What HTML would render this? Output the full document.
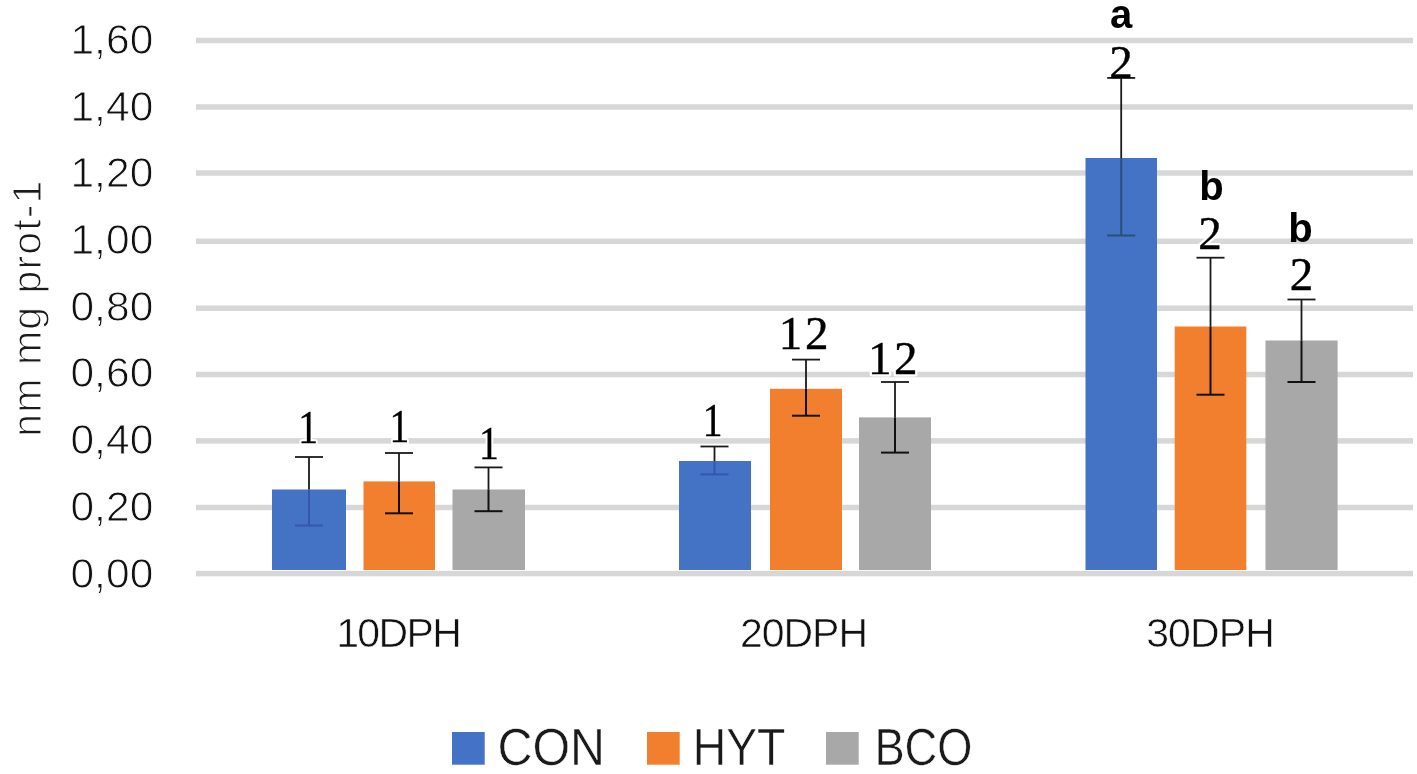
<!DOCTYPE html>
<html><head><meta charset="utf-8"><style>
html,body{margin:0;padding:0;background:#fff;overflow:hidden;}
svg{display:block;filter:blur(0.45px);}
.tk{font-family:"Liberation Sans",sans-serif;font-size:42.5px;fill:#111;letter-spacing:0.1px;stroke:#fff;stroke-width:0.9px;}
.xl{font-family:"Liberation Sans",sans-serif;font-size:41px;fill:#111;stroke:#fff;stroke-width:0.6px;}
.lg{font-family:"Liberation Sans",sans-serif;font-size:51px;fill:#1a1a1a;stroke:#fff;stroke-width:0.5px;}
.yt{font-family:"Liberation Sans",sans-serif;font-size:41px;fill:#1a1a1a;letter-spacing:1.1px;stroke:#fff;stroke-width:1.1px;}
.sl{font-family:"Liberation Serif",serif;font-size:47px;fill:#000;stroke:#000;stroke-width:0.4px;}
.halo{font-family:"Liberation Serif",serif;font-size:47px;fill:none;stroke:#fff;stroke-width:5px;stroke-linejoin:round;}
.bl{font-family:"Liberation Sans",sans-serif;font-size:40px;font-weight:bold;fill:#000;}
</style></head><body>
<svg width="1417" height="774" viewBox="0 0 1417 774">
<rect x="196" y="37.75" width="1217" height="5.5" fill="#d7d7d7"/>
<rect x="196" y="104.25" width="1217" height="5.5" fill="#d7d7d7"/>
<rect x="196" y="170.25" width="1217" height="5.5" fill="#d7d7d7"/>
<rect x="196" y="238.55" width="1217" height="5.5" fill="#d7d7d7"/>
<rect x="196" y="305.45" width="1217" height="5.5" fill="#d7d7d7"/>
<rect x="196" y="371.75" width="1217" height="5.5" fill="#d7d7d7"/>
<rect x="196" y="438.15" width="1217" height="5.5" fill="#d7d7d7"/>
<rect x="196" y="504.75" width="1217" height="5.5" fill="#d7d7d7"/>
<rect x="196" y="570.85" width="1217" height="5.5" fill="#d7d7d7"/>
<rect x="272" y="489.5" width="74.0" height="80.5" fill="#4472c4"/>
<rect x="363.5" y="481.4" width="71.5" height="88.6" fill="#f27f2e"/>
<rect x="452.5" y="489.5" width="72.5" height="80.5" fill="#a8a8a8"/>
<rect x="679" y="461" width="72.0" height="109.0" fill="#4472c4"/>
<rect x="770" y="388.8" width="72.0" height="181.2" fill="#f27f2e"/>
<rect x="859" y="417.4" width="72.0" height="152.6" fill="#a8a8a8"/>
<rect x="1085.5" y="158" width="71.5" height="412.0" fill="#4472c4"/>
<rect x="1174.7" y="326.5" width="71.6" height="243.5" fill="#f27f2e"/>
<rect x="1265.5" y="340.5" width="72.1" height="229.5" fill="#a8a8a8"/>
<g transform="translate(308,443.4) scale(0.84,1)"><text x="0" y="0" text-anchor="middle" class="halo">1</text></g>
<g transform="translate(399.3,442) scale(0.84,1)"><text x="0" y="0" text-anchor="middle" class="halo">1</text></g>
<g transform="translate(488.8,458.6) scale(0.84,1)"><text x="0" y="0" text-anchor="middle" class="halo">1</text></g>
<g transform="translate(712.6,435.5) scale(0.84,1)"><text x="0" y="0" text-anchor="middle" class="halo">1</text></g>
<text x="803.6" y="348.8" text-anchor="middle" class="halo">1<tspan dx="2.6">2</tspan></text>
<text x="892.7" y="373.6" text-anchor="middle" class="halo">1<tspan dx="2.6">2</tspan></text>
<text x="1121" y="77.8" text-anchor="middle" class="halo">2</text>
<text x="1210" y="248.8" text-anchor="middle" class="halo">2</text>
<text x="1301.5" y="289.6" text-anchor="middle" class="halo">2</text>
<line x1="309" y1="457" x2="309" y2="489.5" stroke="#1a1a1a" stroke-width="1.8"/>
<line x1="309" y1="489.5" x2="309" y2="525.5" stroke="#3656a8" stroke-width="2"/>
<line x1="295" y1="457" x2="323" y2="457" stroke="#1a1a1a" stroke-width="1.8"/>
<line x1="295" y1="525.5" x2="323" y2="525.5" stroke="#3656a8" stroke-width="2"/>
<line x1="399" y1="453" x2="399" y2="481.4" stroke="#1a1a1a" stroke-width="1.8"/>
<line x1="399" y1="481.4" x2="399" y2="513.3" stroke="#111" stroke-width="2"/>
<line x1="385" y1="453" x2="413" y2="453" stroke="#1a1a1a" stroke-width="1.8"/>
<line x1="385" y1="513.3" x2="413" y2="513.3" stroke="#111" stroke-width="2"/>
<line x1="488.5" y1="467.4" x2="488.5" y2="489.5" stroke="#1a1a1a" stroke-width="1.8"/>
<line x1="488.5" y1="489.5" x2="488.5" y2="511.2" stroke="#111" stroke-width="2"/>
<line x1="474.5" y1="467.4" x2="502.5" y2="467.4" stroke="#1a1a1a" stroke-width="1.8"/>
<line x1="474.5" y1="511.2" x2="502.5" y2="511.2" stroke="#111" stroke-width="2"/>
<line x1="714.5" y1="446.5" x2="714.5" y2="461" stroke="#1a1a1a" stroke-width="1.8"/>
<line x1="714.5" y1="461" x2="714.5" y2="474.4" stroke="#3656a8" stroke-width="2"/>
<line x1="700.5" y1="446.5" x2="728.5" y2="446.5" stroke="#1a1a1a" stroke-width="1.8"/>
<line x1="700.5" y1="474.4" x2="728.5" y2="474.4" stroke="#3656a8" stroke-width="2"/>
<line x1="806" y1="359.6" x2="806" y2="388.8" stroke="#1a1a1a" stroke-width="1.8"/>
<line x1="806" y1="388.8" x2="806" y2="415.7" stroke="#111" stroke-width="2"/>
<line x1="792" y1="359.6" x2="820" y2="359.6" stroke="#1a1a1a" stroke-width="1.8"/>
<line x1="792" y1="415.7" x2="820" y2="415.7" stroke="#111" stroke-width="2"/>
<line x1="895" y1="382" x2="895" y2="417.4" stroke="#1a1a1a" stroke-width="1.8"/>
<line x1="895" y1="417.4" x2="895" y2="452.6" stroke="#111" stroke-width="2"/>
<line x1="881" y1="382" x2="909" y2="382" stroke="#1a1a1a" stroke-width="1.8"/>
<line x1="881" y1="452.6" x2="909" y2="452.6" stroke="#111" stroke-width="2"/>
<line x1="1121.2" y1="77.9" x2="1121.2" y2="158" stroke="#1a1a1a" stroke-width="1.8"/>
<line x1="1121.2" y1="158" x2="1121.2" y2="235.5" stroke="#2a4f78" stroke-width="2"/>
<line x1="1107.2" y1="77.9" x2="1135.2" y2="77.9" stroke="#1a1a1a" stroke-width="1.8"/>
<line x1="1107.2" y1="235.5" x2="1135.2" y2="235.5" stroke="#2a4f78" stroke-width="2"/>
<line x1="1210.5" y1="257.7" x2="1210.5" y2="326.5" stroke="#1a1a1a" stroke-width="1.8"/>
<line x1="1210.5" y1="326.5" x2="1210.5" y2="394.7" stroke="#111" stroke-width="2"/>
<line x1="1196.5" y1="257.7" x2="1224.5" y2="257.7" stroke="#1a1a1a" stroke-width="1.8"/>
<line x1="1196.5" y1="394.7" x2="1224.5" y2="394.7" stroke="#111" stroke-width="2"/>
<line x1="1301.5" y1="299.5" x2="1301.5" y2="340.5" stroke="#1a1a1a" stroke-width="1.8"/>
<line x1="1301.5" y1="340.5" x2="1301.5" y2="382" stroke="#111" stroke-width="2"/>
<line x1="1287.5" y1="299.5" x2="1315.5" y2="299.5" stroke="#1a1a1a" stroke-width="1.8"/>
<line x1="1287.5" y1="382" x2="1315.5" y2="382" stroke="#111" stroke-width="2"/>
<text x="153.5" y="54.0" text-anchor="end" class="tk">1,60</text>
<text x="153.5" y="120.7" text-anchor="end" class="tk">1,40</text>
<text x="153.5" y="187.4" text-anchor="end" class="tk">1,20</text>
<text x="153.5" y="254.1" text-anchor="end" class="tk">1,00</text>
<text x="153.5" y="320.8" text-anchor="end" class="tk">0,80</text>
<text x="153.5" y="387.4" text-anchor="end" class="tk">0,60</text>
<text x="153.5" y="454.1" text-anchor="end" class="tk">0,40</text>
<text x="153.5" y="520.8" text-anchor="end" class="tk">0,20</text>
<text x="153.5" y="587.5" text-anchor="end" class="tk">0,00</text>
<g transform="translate(308,443.4) scale(0.84,1)"><text x="0" y="0" text-anchor="middle" class="sl">1</text></g>
<g transform="translate(399.3,442) scale(0.84,1)"><text x="0" y="0" text-anchor="middle" class="sl">1</text></g>
<g transform="translate(488.8,458.6) scale(0.84,1)"><text x="0" y="0" text-anchor="middle" class="sl">1</text></g>
<g transform="translate(712.6,435.5) scale(0.84,1)"><text x="0" y="0" text-anchor="middle" class="sl">1</text></g>
<text x="803.6" y="348.8" text-anchor="middle" class="sl">1<tspan dx="2.6">2</tspan></text>
<text x="892.7" y="373.6" text-anchor="middle" class="sl">1<tspan dx="2.6">2</tspan></text>
<text x="1121" y="77.8" text-anchor="middle" class="sl">2</text>
<text x="1210" y="248.8" text-anchor="middle" class="sl">2</text>
<text x="1301.5" y="289.6" text-anchor="middle" class="sl">2</text>
<text x="1121" y="27.6" text-anchor="middle" class="bl">a</text>
<text x="1211.5" y="200.3" text-anchor="middle" class="bl">b</text>
<text x="1300.5" y="241.5" text-anchor="middle" class="bl">b</text>
<text x="399" y="647" text-anchor="middle" class="xl" textLength="125.6" lengthAdjust="spacing">10DPH</text>
<text x="804" y="647" text-anchor="middle" class="xl" textLength="128" lengthAdjust="spacing">20DPH</text>
<text x="1210.5" y="647" text-anchor="middle" class="xl" textLength="128.7" lengthAdjust="spacing">30DPH</text>
<rect x="452" y="732" width="32.7" height="32.7" fill="#4472c4"/>
<text x="497.5" y="764.9" class="lg" textLength="107.5" lengthAdjust="spacingAndGlyphs">CON</text>
<rect x="647" y="732" width="32.7" height="32.7" fill="#f27f2e"/>
<text x="692.8" y="764.9" class="lg" textLength="92.6" lengthAdjust="spacingAndGlyphs">HYT</text>
<rect x="826" y="732" width="32.7" height="32.7" fill="#a8a8a8"/>
<text x="874.4" y="764.9" class="lg" textLength="98" lengthAdjust="spacingAndGlyphs">BCO</text>

<text transform="translate(41.3,436.7) rotate(-90)" class="yt">nm mg prot-1</text>
</svg>
</body></html>
